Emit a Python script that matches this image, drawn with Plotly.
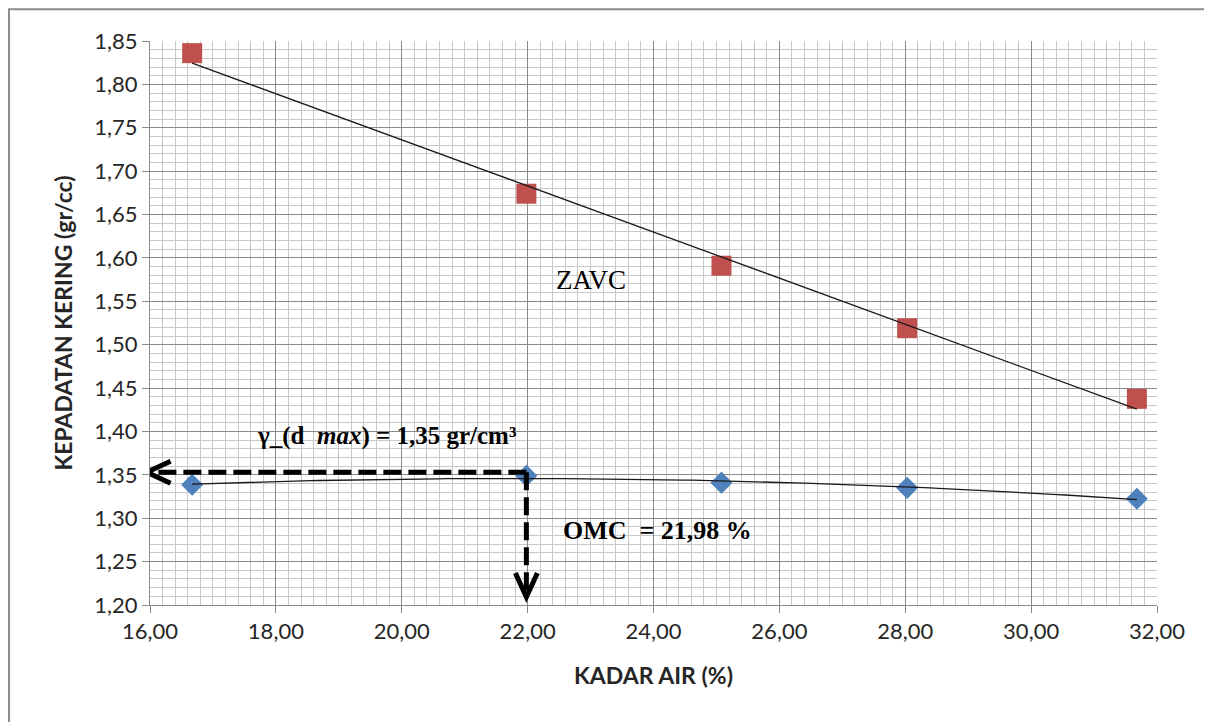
import numpy as np
import plotly.graph_objects as go

# ---- data ----
kadar_air = [16.67, 21.98, 25.08, 28.03, 31.68]          # water content (%)
kepadatan_kering = [1.3385, 1.349, 1.341, 1.335, 1.3224]  # dry density (gr/cc)
zavc = [1.836, 1.674, 1.591, 1.519, 1.4376]              # zero air voids curve
x_tick_vals = [16, 18, 20, 22, 24, 26, 28, 30, 32]
y_tick_vals = [1.20, 1.25, 1.30, 1.35, 1.40, 1.45, 1.50, 1.55, 1.60, 1.65, 1.70, 1.75, 1.80, 1.85]
omc = 21.98
gd_max = 1.353

# ---- styling ----
RED = "#C0504D"
BLUE = "#4F81BD"
TXT = "#262626"
SANS = "Lato, 'Open Sans', sans-serif"
SERIF = "'Liberation Serif', 'Times New Roman', serif"

fig = go.Figure()

fig.add_trace(go.Scatter(
    x=kadar_air, y=zavc, mode="markers", name="ZAVC",
    marker=dict(symbol="square", size=20, color=RED),
))
fig.add_trace(go.Scatter(
    x=kadar_air, y=kepadatan_kering, mode="markers", name="Kepadatan kering",
    marker=dict(symbol="diamond", size=17, color=BLUE),
))

# trendlines derived from the data (linear for ZAVC, polynomial for density)
xa = np.array(kadar_air)
xs = np.linspace(xa.min(), xa.max(), 120)
lin = np.polyfit(xa, np.array(zavc), 1)
poly = np.polyfit(xa, np.array(kepadatan_kering), 2)
fig.add_trace(go.Scatter(x=xs, y=np.polyval(lin, xs), mode="lines",
                         line=dict(color="#1a1a1a", width=1.3), hoverinfo="skip"))
fig.add_trace(go.Scatter(x=xs, y=np.polyval(poly, xs), mode="lines",
                         line=dict(color="#1a1a1a", width=1.3), hoverinfo="skip"))

x_left_tip = 15.93
y_bottom_tip = 1.208
dash = "18px,7px"
shapes = [
    dict(type="line", xref="x", yref="y", x0=omc, y0=gd_max, x1=x_left_tip + 0.05, y1=gd_max,
         line=dict(color="black", width=5, dash=dash)),
    dict(type="line", xref="x", yref="y", x0=omc, y0=gd_max, x1=omc, y1=y_bottom_tip + 0.003,
         line=dict(color="black", width=5, dash=dash)),
    dict(type="path", xref="x", yref="y", xsizemode="pixel", ysizemode="pixel",
         xanchor=x_left_tip, yanchor=gd_max, path="M 25,11 L 1,0 L 25,-11",
         line=dict(color="black", width=5)),
    dict(type="path", xref="x", yref="y", xsizemode="pixel", ysizemode="pixel",
         xanchor=omc, yanchor=y_bottom_tip, path="M -11,25 L 0,1 L 11,25",
         line=dict(color="black", width=5)),
    # outer chart border
    dict(type="rect", xref="paper", yref="paper", x0=-0.14, x1=1.07, y0=-0.25, y1=1.0565,
         line=dict(color="#8c8c8c", width=2), layer="below"),
]

annotations = [
    dict(x=19.75, y=1.395, xref="x", yref="y", showarrow=False,
         text="<b>γ_(d\u00a0 <i>max</i>) = 1,35 gr/cm³</b>",
         font=dict(family=SERIF, size=25, color="black")),
    dict(x=24.06, y=1.2855, xref="x", yref="y", showarrow=False,
         text="<b>OMC\u00a0 = 21,98 %</b>",
         font=dict(family=SERIF, size=26, color="black")),
    dict(x=23.01, y=1.5747, xref="x", yref="y", showarrow=False,
         text="ZAVC", font=dict(family=SERIF, size=27, color="black")),
]

fig.update_layout(
    width=1204, height=714,
    margin=dict(l=142, r=55, t=33, b=117),
    paper_bgcolor="white", plot_bgcolor="white",
    showlegend=False,
    separators=",.",
    shapes=shapes,
    annotations=annotations,
    font=dict(family=SANS, color=TXT),
)

fig.update_xaxes(
    range=[16, 32], tickvals=x_tick_vals, tickformat=".2f",
    showgrid=True, gridcolor="#8a8a8a", gridwidth=1,
    minor=dict(dtick=0.2, tick0=16, showgrid=True, gridcolor="#c8c8c8", gridwidth=1, ticks=""),
    showline=True, linecolor="#8a8a8a", linewidth=1,
    ticks="outside", ticklen=7, tickcolor="#8a8a8a",
    tickfont=dict(family=SANS, size=22, color=TXT),
    zeroline=False,
    title=dict(text="<b>KADAR AIR (%)</b>", font=dict(family=SANS, size=23, color=TXT), standoff=24),
)
fig.update_yaxes(
    range=[1.20, 1.85], tickvals=y_tick_vals, tickformat=".2f",
    showgrid=True, gridcolor="#8a8a8a", gridwidth=1,
    minor=dict(dtick=0.01, tick0=1.2, showgrid=True, gridcolor="#c8c8c8", gridwidth=1, ticks=""),
    showline=True, linecolor="#8a8a8a", linewidth=1,
    ticks="outside", ticklen=7, tickcolor="#8a8a8a",
    tickfont=dict(family=SANS, size=22, color=TXT),
    zeroline=False,
    title=dict(text="<b>KEPADATAN KERING (gr/cc)</b>", font=dict(family=SANS, size=23, color=TXT), standoff=15),
)

fig.write_html("out.html")
